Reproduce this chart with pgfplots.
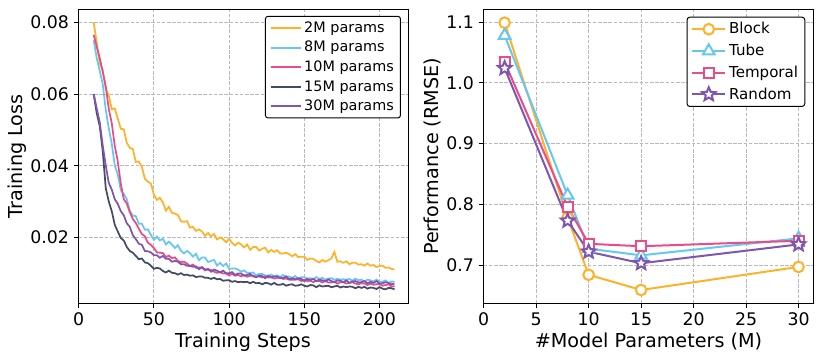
\documentclass[border=0pt]{standalone}
\usepackage{fontspec}
\setmainfont{DejaVu Sans}
\usepackage{pgfplots}
\usepackage{pgfplotstable}
\pgfplotsset{compat=1.18}

\definecolor{cOrange}{RGB}{255,178,40}
\definecolor{cBlue}{RGB}{100,200,240}
\definecolor{cPink}{RGB}{235,75,135}
\definecolor{cDark}{RGB}{66,77,100}
\definecolor{cPurple}{RGB}{126,85,176}

% filled five-pointed star, like matplotlib's '*'
\pgfdeclareplotmark{fstar}{%
  \pgfpathmoveto{\pgfpointpolar{90}{\pgfplotmarksize}}%
  \pgfpathlineto{\pgfpointpolar{126}{0.45*\pgfplotmarksize}}%
  \pgfpathlineto{\pgfpointpolar{162}{\pgfplotmarksize}}%
  \pgfpathlineto{\pgfpointpolar{198}{0.45*\pgfplotmarksize}}%
  \pgfpathlineto{\pgfpointpolar{234}{\pgfplotmarksize}}%
  \pgfpathlineto{\pgfpointpolar{270}{0.45*\pgfplotmarksize}}%
  \pgfpathlineto{\pgfpointpolar{306}{\pgfplotmarksize}}%
  \pgfpathlineto{\pgfpointpolar{342}{0.45*\pgfplotmarksize}}%
  \pgfpathlineto{\pgfpointpolar{18}{\pgfplotmarksize}}%
  \pgfpathlineto{\pgfpointpolar{54}{0.45*\pgfplotmarksize}}%
  \pgfpathclose
  \pgfusepathqfillstroke
}

% training loss, every 2 steps: o=2M b=8M p=10M d=15M u=30M
\pgfplotstableread{
step o b p d u
10 0.0800 0.0750 0.0765 0.0600 0.0600
12 0.0744 0.0700 0.0732 0.0547 0.0560
14 0.0685 0.0665 0.0701 0.0511 0.0522
16 0.0668 0.0628 0.0662 0.0442 0.0457
18 0.0613 0.0556 0.0622 0.0338 0.0401
20 0.0597 0.0505 0.0559 0.0301 0.0353
22 0.0558 0.0462 0.0519 0.0274 0.0334
24 0.0560 0.0401 0.0456 0.0236 0.0307
26 0.0532 0.0376 0.0412 0.0217 0.0294
28 0.0503 0.0332 0.0351 0.0199 0.0274
30 0.0502 0.0322 0.0307 0.0192 0.0262
32 0.0464 0.0307 0.0295 0.0174 0.0240
34 0.0450 0.0275 0.0271 0.0163 0.0230
36 0.0447 0.0261 0.0252 0.0158 0.0207
38 0.0411 0.0260 0.0241 0.0149 0.0196
40 0.0412 0.0239 0.0225 0.0140 0.0183
42 0.0397 0.0239 0.0210 0.0142 0.0180
44 0.0364 0.0222 0.0204 0.0131 0.0163
46 0.0356 0.0223 0.0186 0.0129 0.0162
48 0.0351 0.0208 0.0180 0.0122 0.0159
50 0.0320 0.0194 0.0171 0.0113 0.0151
52 0.0305 0.0203 0.0159 0.0116 0.0151
54 0.0311 0.0192 0.0158 0.0114 0.0144
56 0.0298 0.0197 0.0157 0.0107 0.0149
58 0.0275 0.0181 0.0146 0.0103 0.0141
60 0.0286 0.0189 0.0150 0.0108 0.0141
62 0.0269 0.0181 0.0143 0.0102 0.0133
64 0.0267 0.0171 0.0145 0.0101 0.0135
66 0.0263 0.0179 0.0135 0.0097 0.0133
68 0.0246 0.0163 0.0132 0.0101 0.0126
70 0.0244 0.0156 0.0133 0.0096 0.0126
72 0.0246 0.0163 0.0128 0.0097 0.0122
74 0.0228 0.0157 0.0121 0.0094 0.0121
76 0.0230 0.0147 0.0125 0.0095 0.0119
78 0.0219 0.0155 0.0116 0.0090 0.0120
80 0.0223 0.0137 0.0117 0.0092 0.0112
82 0.0217 0.0145 0.0116 0.0092 0.0118
84 0.0205 0.0145 0.0109 0.0088 0.0111
86 0.0213 0.0132 0.0111 0.0088 0.0113
88 0.0204 0.0135 0.0110 0.0085 0.0105
90 0.0210 0.0138 0.0105 0.0088 0.0111
92 0.0195 0.0122 0.0102 0.0084 0.0108
94 0.0201 0.0130 0.0104 0.0085 0.0103
96 0.0196 0.0121 0.0100 0.0080 0.0108
98 0.0187 0.0128 0.0100 0.0081 0.0101
100 0.0197 0.0113 0.0095 0.0081 0.0101
102 0.0185 0.0114 0.0099 0.0077 0.0104
104 0.0178 0.0114 0.0094 0.0079 0.0096
106 0.0186 0.0111 0.0096 0.0076 0.0100
108 0.0181 0.0105 0.0092 0.0077 0.0100
110 0.0173 0.0109 0.0096 0.0076 0.0094
112 0.0181 0.0102 0.0091 0.0077 0.0096
114 0.0166 0.0102 0.0094 0.0073 0.0099
116 0.0174 0.0103 0.0094 0.0077 0.0092
118 0.0174 0.0095 0.0091 0.0073 0.0090
120 0.0164 0.0099 0.0092 0.0074 0.0094
122 0.0169 0.0099 0.0089 0.0070 0.0093
124 0.0172 0.0095 0.0092 0.0074 0.0087
126 0.0159 0.0093 0.0089 0.0073 0.0094
128 0.0166 0.0097 0.0090 0.0069 0.0089
130 0.0160 0.0093 0.0086 0.0074 0.0092
132 0.0165 0.0095 0.0088 0.0069 0.0092
134 0.0156 0.0090 0.0089 0.0069 0.0087
136 0.0156 0.0096 0.0085 0.0071 0.0088
138 0.0158 0.0090 0.0086 0.0066 0.0092
140 0.0154 0.0092 0.0083 0.0069 0.0084
142 0.0148 0.0088 0.0083 0.0070 0.0087
144 0.0154 0.0093 0.0083 0.0066 0.0084
146 0.0146 0.0086 0.0084 0.0067 0.0087
148 0.0147 0.0090 0.0079 0.0070 0.0085
150 0.0147 0.0090 0.0083 0.0066 0.0079
152 0.0138 0.0086 0.0079 0.0064 0.0085
154 0.0142 0.0087 0.0080 0.0068 0.0082
156 0.0141 0.0085 0.0076 0.0067 0.0085
158 0.0135 0.0090 0.0080 0.0062 0.0079
160 0.0131 0.0085 0.0079 0.0067 0.0083
162 0.0138 0.0088 0.0075 0.0064 0.0081
164 0.0133 0.0083 0.0080 0.0065 0.0078
166 0.0137 0.0086 0.0075 0.0066 0.0084
168 0.0142 0.0087 0.0075 0.0062 0.0079
170 0.0160 0.0083 0.0077 0.0064 0.0076
172 0.0133 0.0085 0.0072 0.0066 0.0081
174 0.0134 0.0083 0.0076 0.0061 0.0080
176 0.0130 0.0084 0.0076 0.0064 0.0076
178 0.0134 0.0083 0.0072 0.0062 0.0081
180 0.0126 0.0085 0.0074 0.0064 0.0074
182 0.0130 0.0080 0.0076 0.0063 0.0078
184 0.0130 0.0086 0.0072 0.0059 0.0079
186 0.0125 0.0081 0.0070 0.0063 0.0075
188 0.0126 0.0083 0.0073 0.0060 0.0076
190 0.0122 0.0077 0.0072 0.0063 0.0079
192 0.0128 0.0083 0.0068 0.0058 0.0073
194 0.0122 0.0081 0.0072 0.0061 0.0077
196 0.0124 0.0078 0.0069 0.0060 0.0074
198 0.0118 0.0083 0.0070 0.0057 0.0079
200 0.0121 0.0077 0.0071 0.0062 0.0072
202 0.0122 0.0077 0.0066 0.0058 0.0073
204 0.0116 0.0081 0.0068 0.0056 0.0076
206 0.0117 0.0073 0.0070 0.0060 0.0074
208 0.0113 0.0078 0.0064 0.0059 0.0070
210 0.0111 0.0077 0.0065 0.0056 0.0072
}\losses

% RMSE against model size
\pgfplotstableread{
m block tube temporal random
2 1.099 1.078 1.034 1.024
8 0.778 0.815 0.796 0.773
10 0.684 0.727 0.735 0.722
15 0.659 0.716 0.731 0.703
30 0.697 0.744 0.740 0.734
}\rmse

\pgfplotsset{
  panel/.style={
    scale only axis,
    width=247.5pt, height=220.5pt,
    axis line style={black, line width=0.75pt},
    tick align=outside, tick pos=left,
    major tick length=3.75pt,
    tick style={black, line width=0.75pt},
    grid=major,
    grid style={gray!55, line width=0.6pt, dash pattern=on 2.6pt off 1.3pt},
    ticklabel style={font=\fontsize{13}{15}\selectfont},
    label style={font=\fontsize{14.4}{17}\selectfont},
    /pgf/number format/assume math mode=true,
    scaled ticks=false,
    legend cell align=left,
  },
}

\begin{document}
\begin{tikzpicture}
\path[use as bounding box] (-59.0pt,-44.0pt) rectangle (557.5pt,227.5pt);

\begin{axis}[panel,
  at={(0pt,0pt)}, anchor=south west,
  xmin=0, xmax=219.4, ymin=0.0017, ymax=0.0836,
  xtick={0,50,100,150,200},
  ytick={0.02,0.04,0.06,0.08},
  yticklabel style={/pgf/number format/.cd, fixed, fixed zerofill, precision=2},
  xlabel={Training Steps}, ylabel={Training Loss},
  xlabel style={at={(axis description cs:0.498,-0.131)}, anchor=center},
  ylabel style={at={(axis description cs:-0.187,0.5)}, anchor=center},
  legend style={at={(0.9767,0.978)}, anchor=north east, draw=black,
    line width=0.75pt, rounded corners=2pt, fill=white,
    font=\fontsize{10.8}{12}\selectfont, row sep=1.2pt,
    inner xsep=3pt, inner ysep=2pt},
  legend image code/.code={\draw[#1, line width=1.6pt]
    plot coordinates {(0pt,0pt) (22.5pt,0pt)};},
]
\addplot[cOrange, line width=1.3pt] table[x=step, y=o] {\losses};
\addplot[cBlue, line width=1.3pt] table[x=step, y=b] {\losses};
\addplot[cPink, line width=1.3pt] table[x=step, y=p] {\losses};
\addplot[cDark, line width=1.3pt] table[x=step, y=d] {\losses};
\addplot[cPurple, line width=1.3pt] table[x=step, y=u] {\losses};
\legend{2M params, 8M params, 10M params, 15M params, 30M params}
\end{axis}

\begin{axis}[panel,
  at={(303.75pt,0pt)}, anchor=south west,
  width=247.2pt,
  xmin=0, xmax=31.4, ymin=0.637, ymax=1.121,
  xtick={0,5,10,15,20,25,30},
  ytick={0.7,0.8,0.9,1.0,1.1},
  yticklabel style={/pgf/number format/.cd, fixed, fixed zerofill, precision=1},
  xlabel={\#Model Parameters (M)}, ylabel={Performance (RMSE)},
  xlabel style={at={(axis description cs:0.5,-0.131)}, anchor=center},
  ylabel style={at={(axis description cs:-0.155,0.5)}, anchor=center},
  legend style={at={(0.9757,0.975)}, anchor=north east, draw=black,
    line width=0.75pt, rounded corners=2pt, fill=white,
    font=\fontsize{11.3}{13}\selectfont, row sep=2.2pt,
    inner xsep=3pt, inner ysep=2pt},
  legend image code/.code={\draw[mark repeat=2, mark phase=2, #1]
    plot coordinates {(0pt,0pt) (12.5pt,0pt) (25pt,0pt)};},
]
\addplot[cOrange, line width=1.5pt, mark=*, mark size=4pt,
  mark options={fill=white, line width=1.5pt}] table[x=m, y=block] {\rmse};
\addplot[cBlue, line width=1.5pt, mark=triangle*, mark size=5pt,
  mark options={fill=white, line width=1.5pt}] table[x=m, y=tube] {\rmse};
\addplot[cPink, line width=1.5pt, mark=square*, mark size=3.8pt,
  mark options={fill=white, line width=1.5pt}] table[x=m, y=temporal] {\rmse};
\addplot[cPurple, line width=1.5pt, mark=fstar, mark size=5.3pt,
  mark options={fill=white, line width=1.5pt}] table[x=m, y=random] {\rmse};
\legend{Block, Tube, Temporal, Random}
\end{axis}
\end{tikzpicture}
\end{document}
